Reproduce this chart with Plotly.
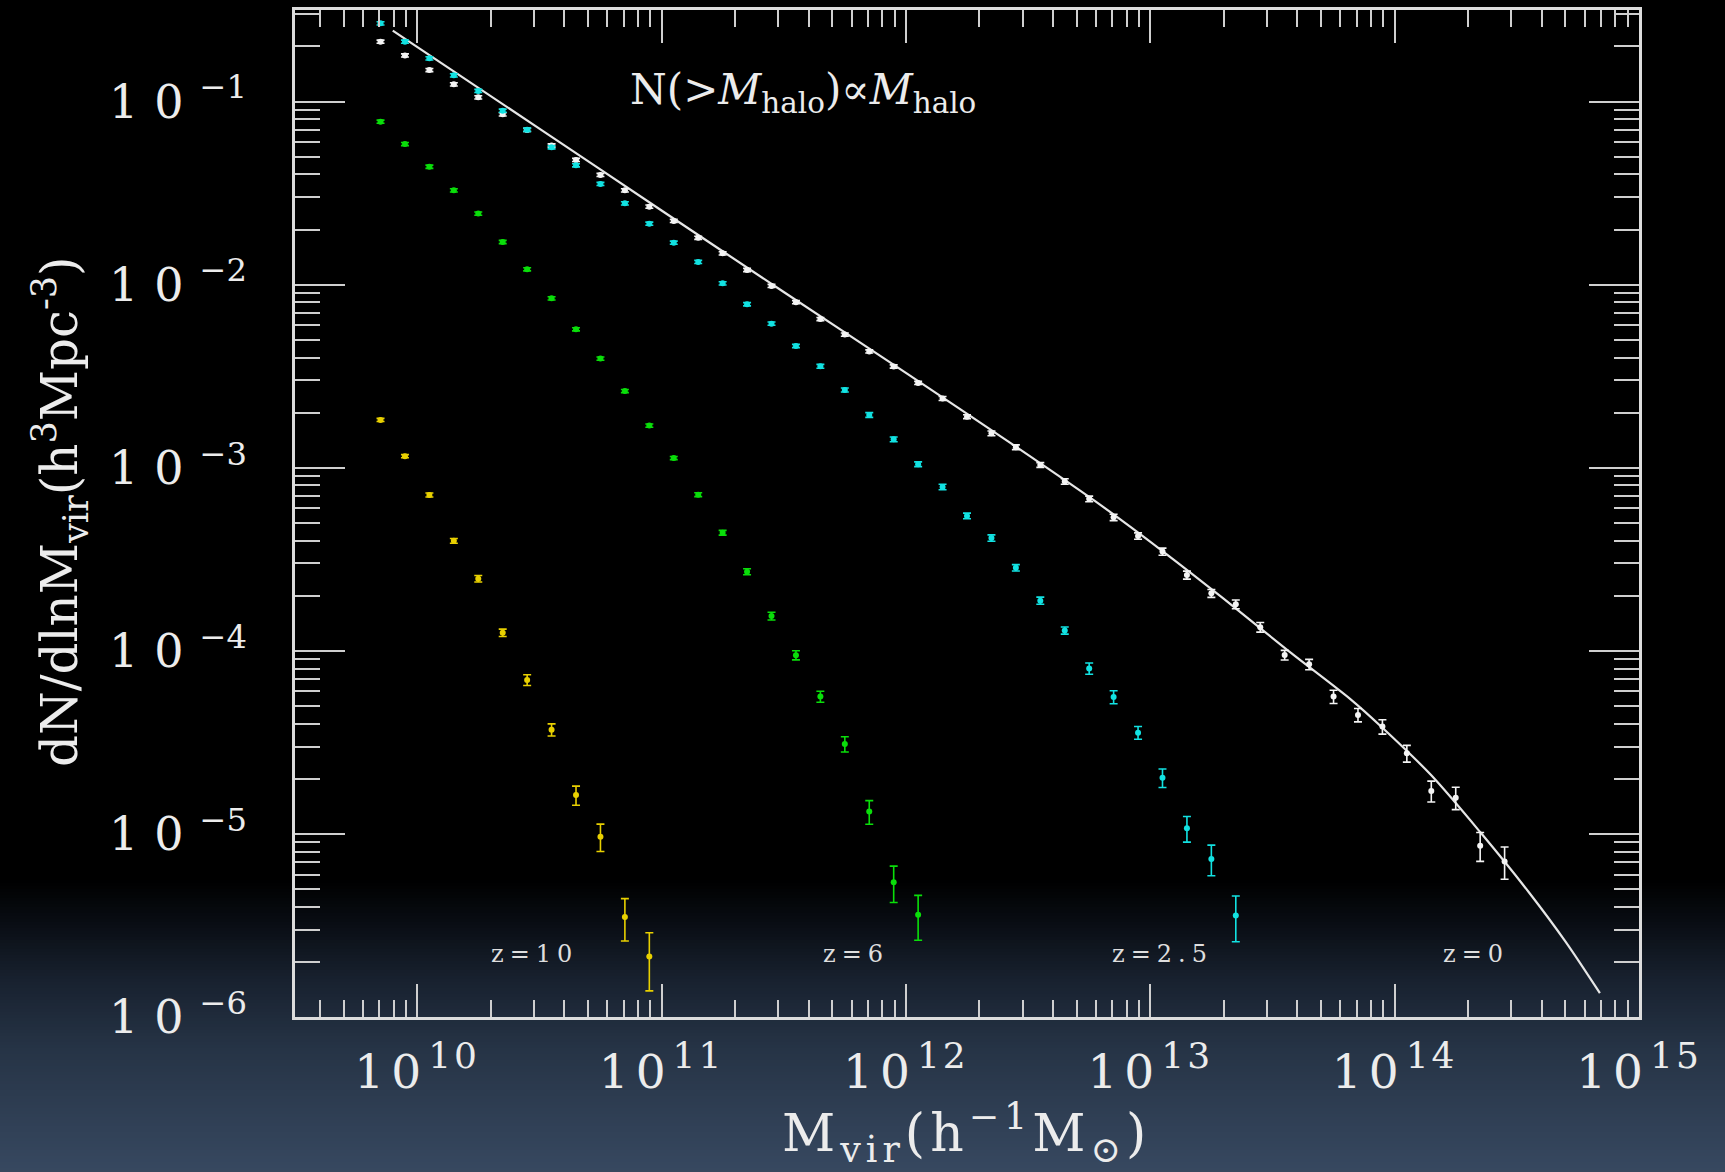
import numpy as np
import plotly.graph_objects as go

# ---------------- data: log10 of halo mass (h^-1 Msun) and log10 of dN/dlnM ----------------
logm_z0 = [9.85, 9.95, 10.05, 10.15, 10.25, 10.35, 10.45, 10.55, 10.65, 10.75,
           10.85, 10.95, 11.05, 11.15, 11.25, 11.35, 11.45, 11.55, 11.65, 11.75,
           11.85, 11.95, 12.05, 12.15, 12.25, 12.35, 12.45, 12.55, 12.65, 12.75,
           12.85, 12.95, 13.05, 13.15, 13.25, 13.35, 13.45, 13.55, 13.65, 13.75,
           13.85, 13.95, 14.05, 14.15, 14.25, 14.35, 14.45]
logn_z0 = [-0.673, -0.748, -0.828, -0.906, -0.977, -1.070, -1.155, -1.240, -1.319, -1.401,
           -1.485, -1.574, -1.652, -1.744, -1.829, -1.920, -2.007, -2.096, -2.188, -2.273,
           -2.365, -2.447, -2.537, -2.622, -2.721, -2.812, -2.888, -2.985, -3.075, -3.170,
           -3.271, -3.373, -3.458, -3.586, -3.686, -3.746, -3.871, -4.023, -4.074, -4.250,
           -4.350, -4.414, -4.560, -4.765, -4.802, -5.064, -5.151]
ferr_z0 = [0.02, 0.02, 0.02, 0.02, 0.02, 0.02, 0.02, 0.02, 0.02, 0.02,
           0.02, 0.02, 0.02, 0.02, 0.02, 0.02, 0.02, 0.02, 0.02, 0.02,
           0.02, 0.02, 0.02, 0.025, 0.025, 0.03, 0.03, 0.03, 0.035, 0.035,
           0.04, 0.04, 0.045, 0.05, 0.05, 0.055, 0.06, 0.06, 0.065, 0.084,
           0.084, 0.09, 0.105, 0.13, 0.14, 0.18, 0.20]

logm_z25 = [9.85, 9.95, 10.05, 10.15, 10.25, 10.35, 10.45, 10.55, 10.65, 10.75,
            10.85, 10.95, 11.05, 11.15, 11.25, 11.35, 11.45, 11.55, 11.65, 11.75,
            11.85, 11.95, 12.05, 12.15, 12.25, 12.35, 12.45, 12.55, 12.65, 12.75,
            12.85, 12.95, 13.05, 13.15, 13.25, 13.35]
logn_z25 = [-0.573, -0.673, -0.764, -0.857, -0.942, -1.050, -1.154, -1.250, -1.348, -1.450,
            -1.556, -1.667, -1.771, -1.876, -1.993, -2.107, -2.213, -2.335, -2.446, -2.575,
            -2.712, -2.845, -2.981, -3.105, -3.263, -3.384, -3.546, -3.726, -3.889, -4.096,
            -4.252, -4.447, -4.693, -4.969, -5.137, -5.446]
ferr_z25 = [0.02, 0.02, 0.02, 0.02, 0.02, 0.02, 0.02, 0.02, 0.02, 0.02,
            0.02, 0.02, 0.02, 0.02, 0.02, 0.02, 0.02, 0.02, 0.025, 0.025,
            0.03, 0.03, 0.03, 0.035, 0.035, 0.04, 0.04, 0.045, 0.045, 0.071,
            0.082, 0.08, 0.116, 0.16, 0.19, 0.28]

logm_z6 = [9.85, 9.95, 10.05, 10.15, 10.25, 10.35, 10.45, 10.55, 10.65, 10.75,
           10.85, 10.95, 11.05, 11.15, 11.25, 11.35, 11.45, 11.55, 11.65, 11.75,
           11.85, 11.95, 12.05]
logn_z6 = [-1.110, -1.232, -1.356, -1.485, -1.612, -1.767, -1.916, -2.075, -2.244, -2.404,
           -2.581, -2.770, -2.947, -3.147, -3.355, -3.568, -3.810, -4.024, -4.250, -4.509,
           -4.878, -5.264, -5.441]
ferr_z6 = [0.02, 0.02, 0.02, 0.02, 0.02, 0.02, 0.02, 0.02, 0.02, 0.02,
           0.02, 0.02, 0.02, 0.025, 0.03, 0.038, 0.048, 0.057, 0.069, 0.095,
           0.147, 0.225, 0.275]

logm_z10 = [9.85, 9.95, 10.05, 10.15, 10.25, 10.35, 10.45, 10.55, 10.65, 10.75,
            10.85, 10.95]
logn_z10 = [-2.739, -2.937, -3.149, -3.399, -3.606, -3.901, -4.159, -4.431, -4.788, -5.015,
            -5.454, -5.670]
ferr_z10 = [0.02, 0.02, 0.025, 0.03, 0.04, 0.046, 0.067, 0.076, 0.12, 0.17,
            0.26, 0.35]

# analytic z=0 mass function curve
logm_fit = [9.90, 10.50, 11.00, 11.50, 12.00, 12.45, 12.80, 13.05, 13.30, 13.56,
            13.82, 13.95, 14.15, 14.35, 14.55, 14.70, 14.84]
logn_fit = [-0.613, -1.148, -1.595, -2.040, -2.482, -2.885, -3.207, -3.455, -3.715, -3.995,
            -4.265, -4.420, -4.680, -4.990, -5.320, -5.590, -5.870]

x_tick_exp = [10, 11, 12, 13, 14, 15]
y_tick_exp = [-1, -2, -3, -4, -5, -6]

series = [
    ("z=0", logm_z0, logn_z0, ferr_z0, "#f4f4f4"),
    ("z=2.5", logm_z25, logn_z25, ferr_z25, "#12e2e2"),
    ("z=6", logm_z6, logn_z6, ferr_z6, "#0ade0a"),
    ("z=10", logm_z10, logn_z10, ferr_z10, "#e8d000"),
]

# ---------------- geometry (pixels of the 1725x1172 page) ----------------
W, H = 1725, 1172
L, R, T, B = 295, 1639, 10, 1017


def px(X):
    return (X - L) / (R - L)


def py(Y):
    return (B - Y) / (B - T)


SERIF = "DejaVu Serif"
TXT = "#ececec"

fig = go.Figure()

fig.add_trace(go.Scatter(
    x=np.power(10.0, logm_fit), y=np.power(10.0, logn_fit),
    mode="lines", line=dict(color="#e6e6e6", width=2.2, shape="spline", smoothing=0.8),
    showlegend=False, hoverinfo="skip"))

for name, lm, ln, fe, col in series:
    m = np.power(10.0, lm)
    n = np.power(10.0, ln)
    fig.add_trace(go.Scatter(
        x=m, y=n, mode="markers", name=name,
        marker=dict(color=col, size=6, line=dict(width=0)),
        error_y=dict(type="data", array=n * np.array(fe), color=col,
                     thickness=1.6, width=4),
        showlegend=False))

# ---------------- background: black fading to slate blue at the bottom ----------------
stops = [(0, (0, 0, 0)), (880, (0, 0, 0)), (920, (8, 12, 18)), (980, (24, 33, 47)),
         (1050, (38, 52, 70)), (1172, (55, 72, 96))]
shapes = []
step = 3
for Y in range(880, H, step):
    yc = Y + step / 2
    for (y0, c0), (y1, c1) in zip(stops[:-1], stops[1:]):
        if y0 <= yc <= y1:
            t = (yc - y0) / (y1 - y0)
            c = tuple(int(round(a + (b - a) * t)) for a, b in zip(c0, c1))
            break
    shapes.append(dict(type="rect", xref="paper", yref="paper",
                       x0=px(0), x1=px(W), y0=py(Y + step + 0.5), y1=py(Y),
                       fillcolor="rgb(%d,%d,%d)" % c, line=dict(width=0),
                       layer="below"))


def minor_vals(lo, hi):
    out = []
    for e in range(lo, hi):
        for k in range(2, 10):
            out.append(k * 10.0 ** e)
    return out


xticktext = ['<span style="letter-spacing:7px">10</span>'
             '<sup><span style="font-size:36px;letter-spacing:3px">%d</span></sup>' % e
             for e in x_tick_exp]
yticktext = ['<span style="letter-spacing:16px">10</span><sup>\u2212%d</sup>' % (-e)
             for e in y_tick_exp]

axis_common = dict(
    type="log", showgrid=False, zeroline=False,
    showline=True, linecolor="#dcdcdc", linewidth=2.5, mirror="allticks",
    ticks="inside", tickcolor="#cfcfcf", tickwidth=2,
    tickfont=dict(family=SERIF, size=44, color=TXT),
)

fig.update_xaxes(
    **axis_common,
    range=[9.5, 15],
    tickmode="array", tickvals=[10.0 ** e for e in x_tick_exp], ticktext=xticktext,
    ticklen=33, ticklabelstandoff=12,
    minor=dict(ticks="inside", ticklen=17, tickwidth=2, tickcolor="#cfcfcf",
               tickmode="array", tickvals=minor_vals(9, 15), showgrid=False),
)
fig.update_yaxes(
    **axis_common,
    range=[-6, -0.5],
    tickmode="array", tickvals=[10.0 ** e for e in y_tick_exp], ticktext=yticktext,
    ticklen=50, ticklabelstandoff=36,
    minor=dict(ticks="inside", ticklen=25, tickwidth=2, tickcolor="#cfcfcf",
               tickmode="array", tickvals=minor_vals(-6, 0), showgrid=False),
)
fig.update_xaxes(tickfont=dict(size=47))
fig.update_yaxes(tickfont=dict(size=46))

annotations = [
    dict(x=px(60), y=py(512), textangle=-90,
         text="dN/dlnM<sub>vir</sub>(h<sup>3</sup>Mpc<sup>-3</sup>)",
         font=dict(family=SERIF, size=50, color=TXT)),
    dict(x=px(966), y=py(1133),
         text='<span style="letter-spacing:5px">M<sub>vir</sub>(h<sup>\u22121</sup>M<sub>\u2299</sub>)</span>',
         font=dict(family=SERIF, size=52, color=TXT)),
    dict(x=px(803), y=py(93),
         text="N(&gt;<i>M</i><sub>halo</sub>)\u221d<i>M</i><sub>halo</sub>",
         font=dict(family=SERIF, size=42, color=TXT)),
]
for label, X in [("z=10", 534), ("z=6", 856), ("z=2.5", 1162), ("z=0", 1476)]:
    annotations.append(dict(
        x=px(X), y=py(954),
        text='<span style="letter-spacing:6px">%s</span>' % label,
        font=dict(family=SERIF, size=24, color="#dedede")))
for a in annotations:
    a.update(xref="paper", yref="paper", showarrow=False,
             xanchor="center", yanchor="middle")

fig.update_layout(
    width=W, height=H,
    margin=dict(l=L, r=W - R, t=T, b=H - B, autoexpand=False),
    paper_bgcolor="#000000", plot_bgcolor="rgba(0,0,0,0)",
    shapes=shapes, annotations=annotations, showlegend=False,
)

fig.write_html("out.html")
